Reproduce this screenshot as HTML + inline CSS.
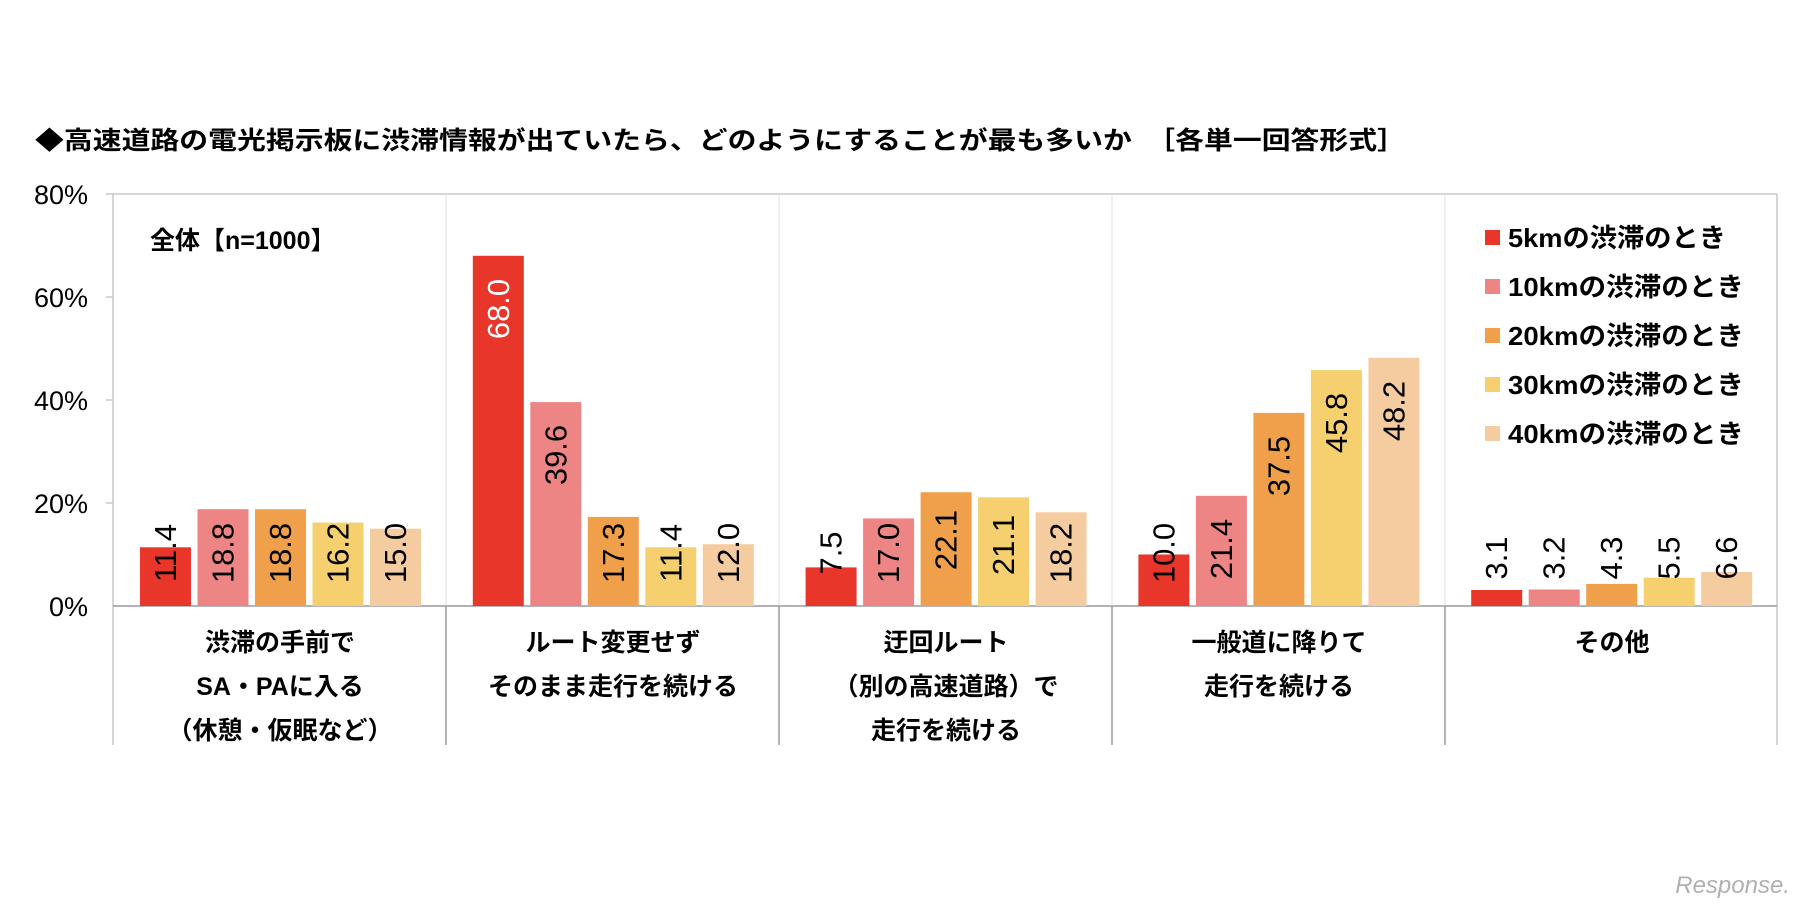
<!DOCTYPE html>
<html><head><meta charset="utf-8"><style>
html,body{margin:0;padding:0;background:#fff;}
svg{display:block;}
text{font-family:"Liberation Sans","Noto Sans CJK JP",sans-serif;}
</style></head><body>
<svg width="1815" height="907" viewBox="0 0 1815 907" xmlns="http://www.w3.org/2000/svg">
<rect width="1815" height="907" fill="#fff"/>
<text x="35" y="149" font-size="25" font-weight="bold" textLength="1371" lengthAdjust="spacingAndGlyphs">◆高速道路の電光掲示板に渋滞情報が出ていたら、どのようにすることが最も多いか　［各単一回答形式］</text>
<g font-size="27" text-anchor="end">
<text x="88" y="204">80%</text>
<text x="88" y="307">60%</text>
<text x="88" y="410">40%</text>
<text x="88" y="513">20%</text>
<text x="88" y="616">0%</text>
</g>
<g stroke="#c8c8cc" stroke-width="1.5" fill="none">
<line x1="113" y1="194" x2="1777" y2="194"/>
<line x1="1777" y1="194" x2="1777" y2="745"/>
<line x1="113" y1="194" x2="113" y2="745"/>
<line x1="106" y1="194" x2="113" y2="194"/>
<line x1="106" y1="297" x2="113" y2="297"/>
<line x1="106" y1="400" x2="113" y2="400"/>
<line x1="106" y1="503" x2="113" y2="503"/>
</g>
<g stroke="#e4e4e8" stroke-width="1.2">
<line x1="446" y1="194" x2="446" y2="606"/>
<line x1="779" y1="194" x2="779" y2="606"/>
<line x1="1112" y1="194" x2="1112" y2="606"/>
<line x1="1445" y1="194" x2="1445" y2="606"/>
</g>
<g stroke="#9a9aa2" stroke-width="1.5">
<line x1="113" y1="606" x2="1777" y2="606"/>
<line x1="446" y1="606" x2="446" y2="745"/>
<line x1="779" y1="606" x2="779" y2="745"/>
<line x1="1112" y1="606" x2="1112" y2="745"/>
<line x1="1445" y1="606" x2="1445" y2="745"/>
</g>
<!-- bars -->
<g>
<rect x="140" y="547.3" width="51" height="58.7" fill="#e8362a"/>
<rect x="197.5" y="509.2" width="51" height="96.8" fill="#ee8585"/>
<rect x="255" y="509.2" width="51" height="96.8" fill="#f0a04b"/>
<rect x="312.5" y="522.6" width="51" height="83.4" fill="#f6cf6e"/>
<rect x="370" y="528.7" width="51" height="77.3" fill="#f5cba0"/>

<rect x="472.8" y="255.8" width="51" height="350.2" fill="#e8362a"/>
<rect x="530.3" y="402.1" width="51" height="203.9" fill="#ee8585"/>
<rect x="587.8" y="516.9" width="51" height="89.1" fill="#f0a04b"/>
<rect x="645.3" y="547.3" width="51" height="58.7" fill="#f6cf6e"/>
<rect x="702.8" y="544.2" width="51" height="61.8" fill="#f5cba0"/>

<rect x="805.6" y="567.4" width="51" height="38.6" fill="#e8362a"/>
<rect x="863.1" y="518.4" width="51" height="87.6" fill="#ee8585"/>
<rect x="920.6" y="492.2" width="51" height="113.8" fill="#f0a04b"/>
<rect x="978.1" y="497.3" width="51" height="108.7" fill="#f6cf6e"/>
<rect x="1035.6" y="512.3" width="51" height="93.7" fill="#f5cba0"/>

<rect x="1138.4" y="554.5" width="51" height="51.5" fill="#e8362a"/>
<rect x="1195.9" y="495.8" width="51" height="110.2" fill="#ee8585"/>
<rect x="1253.4" y="412.9" width="51" height="193.1" fill="#f0a04b"/>
<rect x="1310.9" y="370.1" width="51" height="235.9" fill="#f6cf6e"/>
<rect x="1368.4" y="357.8" width="51" height="248.2" fill="#f5cba0"/>

<rect x="1471.2" y="590" width="51" height="16" fill="#e8362a"/>
<rect x="1528.7" y="589.5" width="51" height="16.5" fill="#ee8585"/>
<rect x="1586.2" y="583.9" width="51" height="22.1" fill="#f0a04b"/>
<rect x="1643.7" y="577.7" width="51" height="28.3" fill="#f6cf6e"/>
<rect x="1701.2" y="572" width="51" height="34" fill="#f5cba0"/>
</g>
<g font-size="31" text-anchor="middle" dominant-baseline="central" fill="#000">
<text transform="translate(165.5,553) rotate(-90)">11.4</text>
<text transform="translate(223,553) rotate(-90)">18.8</text>
<text transform="translate(280.5,553) rotate(-90)">18.8</text>
<text transform="translate(338,553) rotate(-90)">16.2</text>
<text transform="translate(395.5,553) rotate(-90)">15.0</text>

<text transform="translate(498.3,309) rotate(-90)" fill="#fff">68.0</text>
<text transform="translate(555.8,455) rotate(-90)">39.6</text>
<text transform="translate(613.3,553) rotate(-90)">17.3</text>
<text transform="translate(670.8,553) rotate(-90)">11.4</text>
<text transform="translate(728.3,553) rotate(-90)">12.0</text>

<text transform="translate(831.1,553) rotate(-90)">7.5</text>
<text transform="translate(888.6,553) rotate(-90)">17.0</text>
<text transform="translate(946.1,540) rotate(-90)">22.1</text>
<text transform="translate(1003.6,545) rotate(-90)">21.1</text>
<text transform="translate(1061.1,553) rotate(-90)">18.2</text>

<text transform="translate(1163.9,553) rotate(-90)">10.0</text>
<text transform="translate(1221.4,549) rotate(-90)">21.4</text>
<text transform="translate(1278.9,466) rotate(-90)">37.5</text>
<text transform="translate(1336.4,423) rotate(-90)">45.8</text>
<text transform="translate(1393.9,411) rotate(-90)">48.2</text>

<text transform="translate(1496.7,558) rotate(-90)">3.1</text>
<text transform="translate(1554.2,558) rotate(-90)">3.2</text>
<text transform="translate(1611.7,558) rotate(-90)">4.3</text>
<text transform="translate(1669.2,558) rotate(-90)">5.5</text>
<text transform="translate(1726.7,558) rotate(-90)">6.6</text>
</g>
<g font-size="25" font-weight="bold" text-anchor="middle">
<text x="280" y="651">渋滞の手前で</text>
<text x="280" y="695">SA・PAに入る</text>
<text x="280" y="739">（休憩・仮眠など）</text>
<text x="613" y="651">ルート変更せず</text>
<text x="613" y="695">そのまま走行を続ける</text>
<text x="946" y="651">迂回ルート</text>
<text x="946" y="695">（別の高速道路）で</text>
<text x="946" y="739">走行を続ける</text>
<text x="1279" y="651">一般道に降りて</text>
<text x="1279" y="695">走行を続ける</text>
<text x="1612" y="651">その他</text>
</g>
<text x="150" y="249" font-size="25" font-weight="bold">全体【n=1000】</text>
<g font-size="26" font-weight="bold">
<rect x="1485" y="230" width="15" height="15" fill="#e8362a"/><text x="1508" y="247" textLength="218" lengthAdjust="spacingAndGlyphs">5kmの渋滞のとき</text>
<rect x="1485" y="279" width="15" height="15" fill="#ee8585"/><text x="1508" y="296" textLength="236" lengthAdjust="spacingAndGlyphs">10kmの渋滞のとき</text>
<rect x="1485" y="328" width="15" height="15" fill="#f0a04b"/><text x="1508" y="345" textLength="236" lengthAdjust="spacingAndGlyphs">20kmの渋滞のとき</text>
<rect x="1485" y="377" width="15" height="15" fill="#f6cf6e"/><text x="1508" y="394" textLength="236" lengthAdjust="spacingAndGlyphs">30kmの渋滞のとき</text>
<rect x="1485" y="426" width="15" height="15" fill="#f5cba0"/><text x="1508" y="443" textLength="236" lengthAdjust="spacingAndGlyphs">40kmの渋滞のとき</text>
</g>
<text x="1790" y="893" font-size="24" font-style="italic" fill="#b0b0b0" text-anchor="end">Response.</text>
</svg>
</body></html>
